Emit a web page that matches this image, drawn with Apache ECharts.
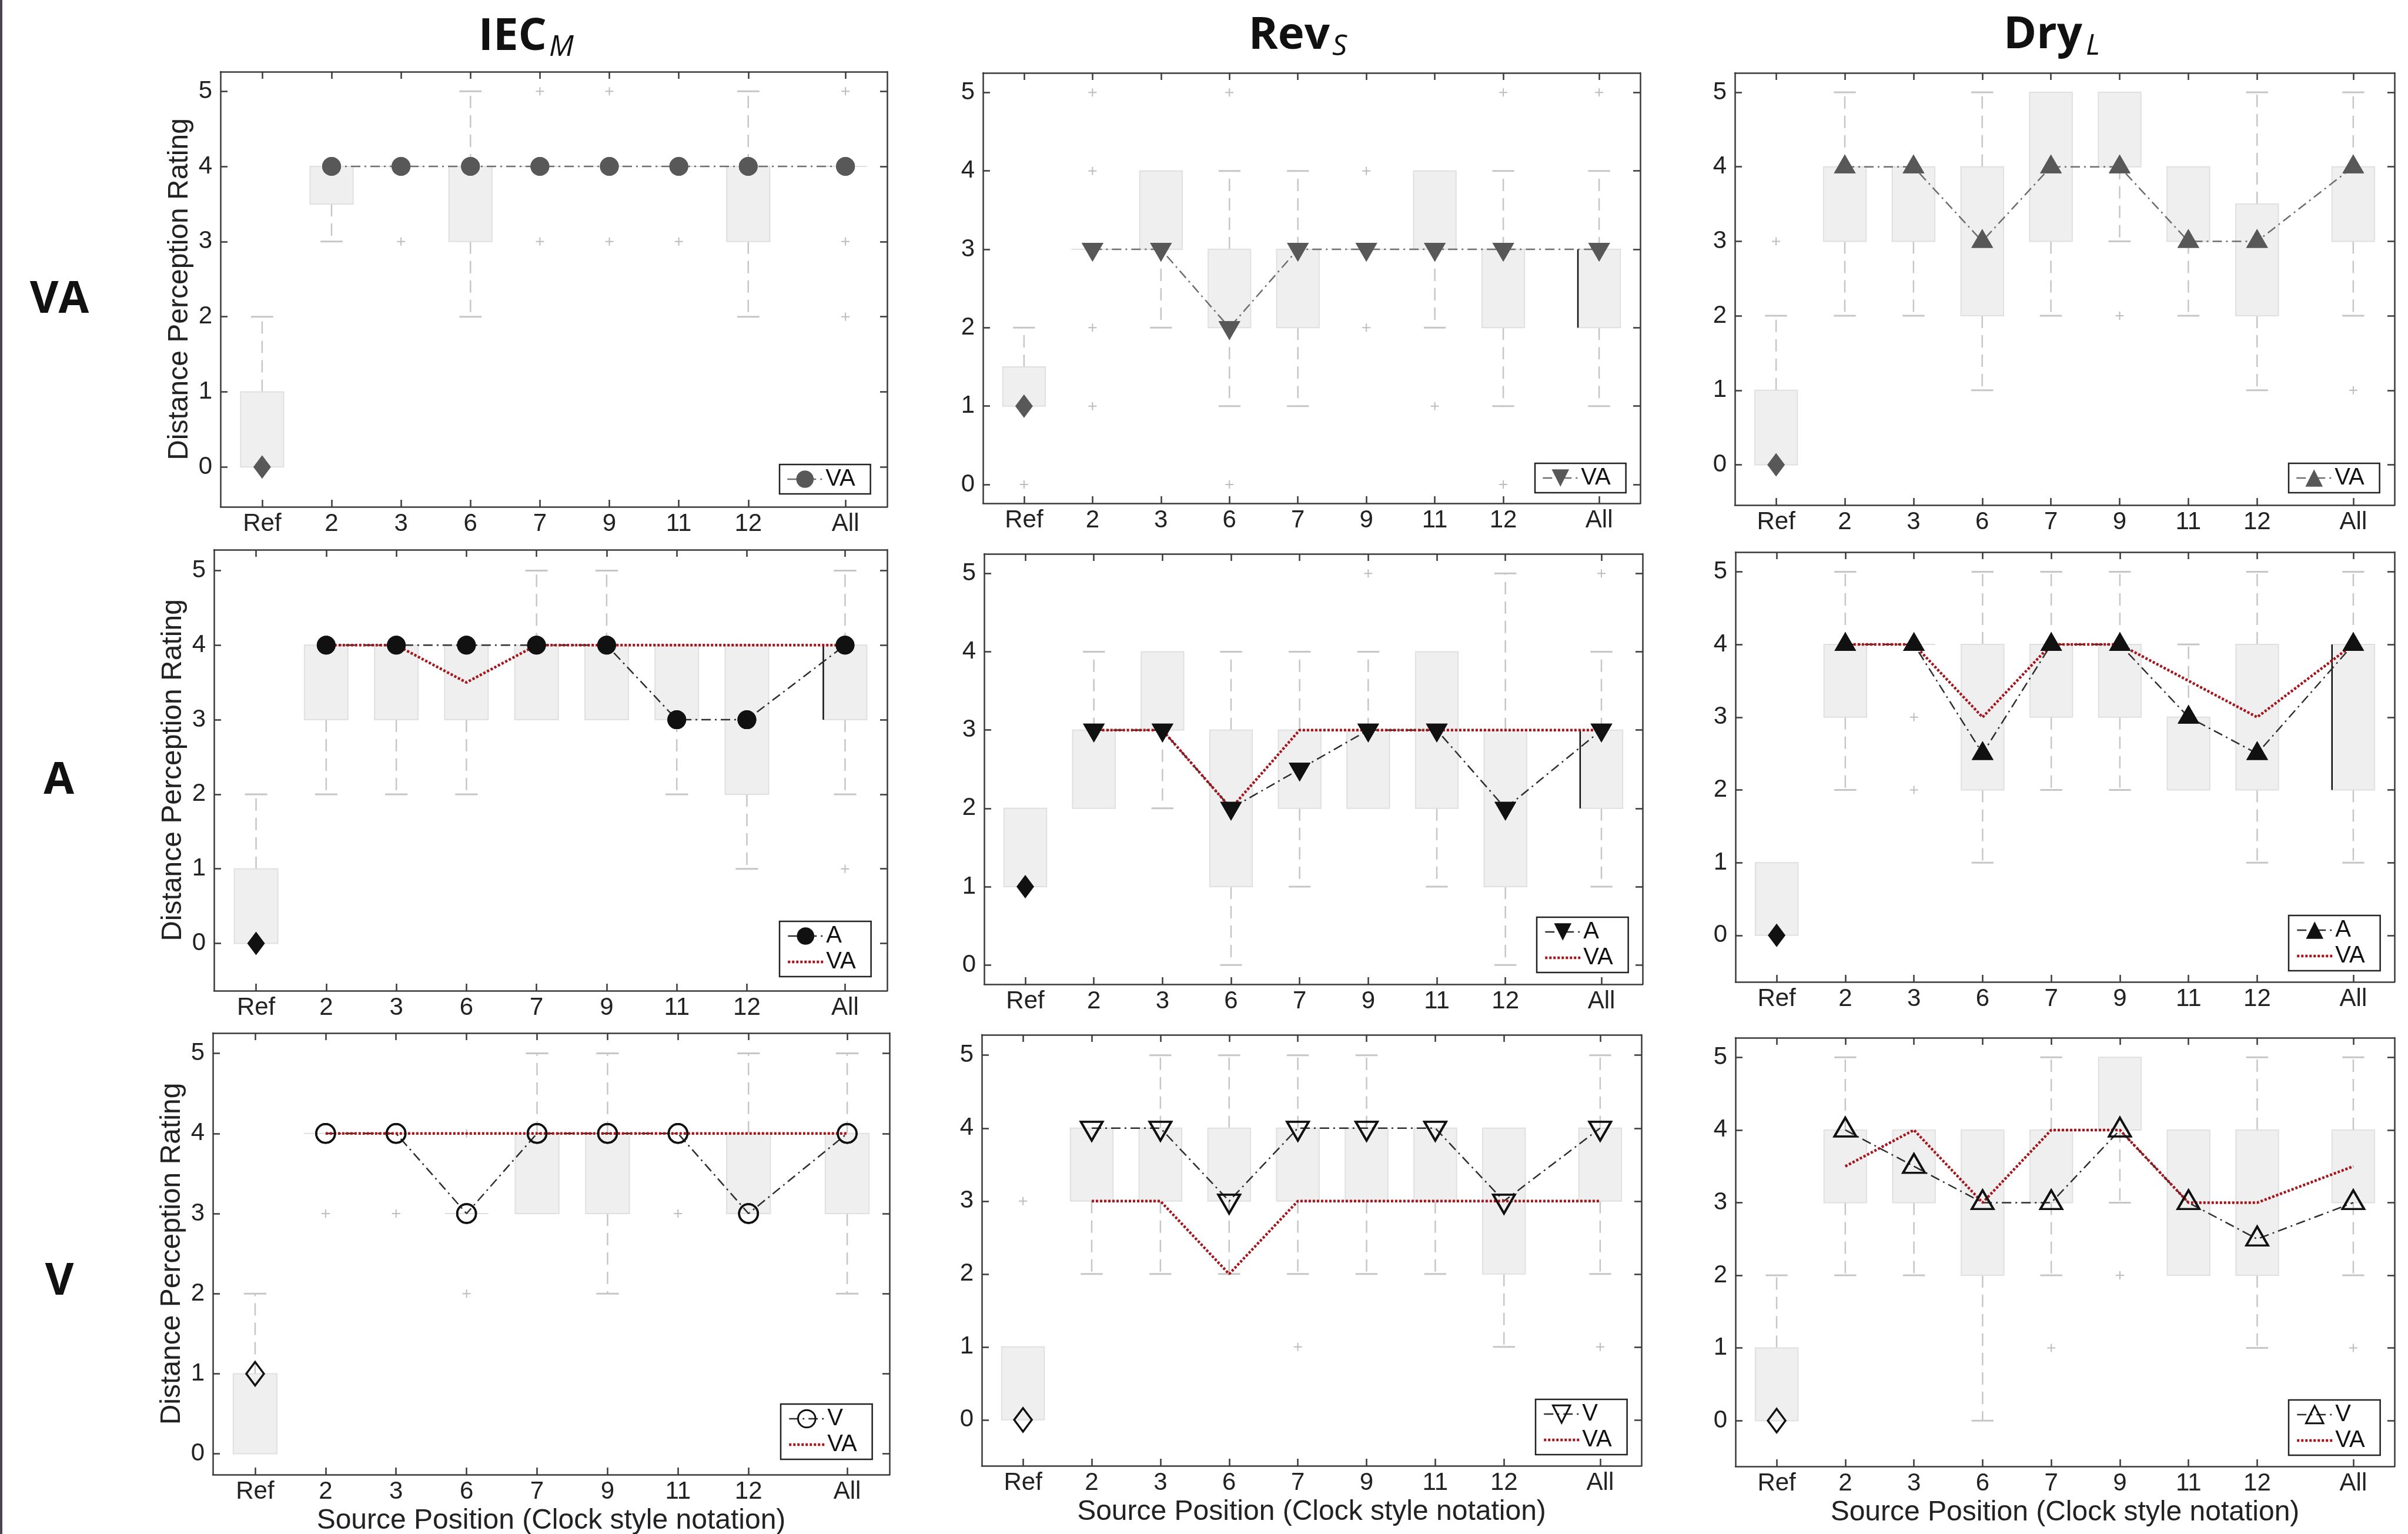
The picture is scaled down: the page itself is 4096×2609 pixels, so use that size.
<!DOCTYPE html>
<html><head><meta charset="utf-8">
<script src="https://cdn.jsdelivr.net/npm/echarts@6/dist/echarts.min.js"></script>
<style>html,body{margin:0;padding:0;background:#fff}#c{width:4096px;height:2609px}</style>
</head><body><div id="c"></div>
<script>
// ---------- data ----------
const positions = ['Ref','2','3','6','7','9','11','12','All'];
const xPositions = [1,2,3,4,5,6,7,8,9.4];
const yTicks = [0,1,2,3,4,5];
const columnTitles = [['IEC','M'],['Rev','S'],['Dry','L']];
const rowTitles = ['VA','A','V'];
const yAxisTitle = 'Distance Perception Rating';
const xAxisTitle = 'Source Position (Clock style notation)';

// boxes: [low whisker, q1, q3, high whisker] per position; outliers: [position index, value]
const iecVaBoxes = [[0,0,1,2],[3,3.5,4,4],[4,4,4,4],[2,3,4,5],[4,4,4,4],[4,4,4,4],[4,4,4,4],[2,3,4,5],[4,4,4,4]];
const iecVaMedians = [0,4,4,4,4,4,4,4,4];
const iecVaOutliers = [[2,3],[4,5],[4,3],[5,5],[5,3],[6,3],[8,5],[8,3],[8,2]];

const revVaBoxes = [[1,1,1.5,2],[3,3,3,3],[2,3,4,4],[1,2,3,4],[1,2,3,4],[3,3,3,3],[2,3,4,4],[1,2,3,4],[1,2,3,4]];
const revVaMedians = [1,3,3,2,3,3,3,3,3];
const revVaOutliers = [[0,0],[1,5],[1,4],[1,2],[1,1],[3,5],[3,0],[5,4],[5,2],[6,1],[7,5],[7,0],[8,5]];

const dryVaBoxes = [[0,0,1,2],[2,3,4,5],[2,3,4,4],[1,2,4,5],[2,3,5,5],[3,4,5,5],[2,3,4,4],[1,2,3.5,5],[2,3,4,5]];
const dryVaMedians = [0,4,4,3,4,4,3,3,4];
const dryVaOutliers = [[0,3],[5,2],[8,1]];

const iecABoxes = [[0,0,1,2],[2,3,4,4],[2,3,4,4],[2,3,4,4],[3,3,4,5],[3,3,4,5],[2,3,4,4],[1,2,4,4],[2,3,4,5]];
const iecAMedians = [0,4,4,4,4,4,3,3,4];
const iecAVaLine = [4,4,3.5,4,4,4,4,4];
const iecAOutliers = [[8,1]];

const revABoxes = [[1,1,2,2],[2,2,3,4],[2,3,4,4],[0,1,3,4],[1,2,3,4],[2,2,3,4],[1,2,4,4],[0,1,3,5],[1,2,3,4]];
const revAMedians = [1,3,3,2,2.5,3,3,2,3];
const revAVaLine = [3,3,2,3,3,3,3,3];
const revAOutliers = [[5,5],[8,5]];

const dryABoxes = [[0,0,1,1],[2,3,4,5],[4,4,4,4],[1,2,4,5],[2,3,4,5],[2,3,4,5],[2,2,3,4],[1,2,4,5],[1,2,4,5]];
const dryAMedians = [0,4,4,2.5,4,4,3,2.5,4];
const dryAVaLine = [4,4,3,4,4,3.5,3,4];
const dryAOutliers = [[2,3],[2,2]];

const iecVBoxes = [[0,0,1,2],[4,4,4,4],[4,4,4,4],[3,3,3,3],[3,3,4,5],[2,3,4,5],[4,4,4,4],[3,3,4,5],[2,3,4,5]];
const iecVMedians = [1,4,4,3,4,4,4,3,4];
const iecVVaLine = [4,4,4,4,4,4,4,4];
const iecVOutliers = [[1,3],[2,3],[3,4],[3,2],[6,3]];

const revVBoxes = [[0,0,1,1],[2,3,4,4],[2,3,4,5],[2,3,4,5],[2,3,4,5],[2,3,4,5],[2,3,4,4],[1,2,4,4],[2,3,4,5]];
const revVMedians = [0,4,4,3,4,4,4,3,4];
const revVVaLine = [3,3,2,3,3,3,3,3];
const revVOutliers = [[0,3],[4,1],[8,1]];

const dryVBoxes = [[0,0,1,2],[2,3,4,5],[2,3,4,4],[0,2,4,4],[2,3,4,5],[3,4,5,5],[2,2,4,4],[1,2,4,5],[2,3,4,5]];
const dryVMedians = [0,4,3.5,3,3,4,3,2.5,3];
const dryVVaLine = [3.5,4,3,4,4,3,3,3.5];
const dryVOutliers = [[4,1],[5,2],[8,1]];

// positions whose box shows a dark left edge
const revVaEdges = [8], iecAEdges = [8], revAEdges = [8], dryAEdges = [8];

const panels = [
  {boxes: iecVaBoxes, medians: iecVaMedians, va: null, outliers: iecVaOutliers, edges: []},
  {boxes: revVaBoxes, medians: revVaMedians, va: null, outliers: revVaOutliers, edges: revVaEdges},
  {boxes: dryVaBoxes, medians: dryVaMedians, va: null, outliers: dryVaOutliers, edges: []},
  {boxes: iecABoxes, medians: iecAMedians, va: iecAVaLine, outliers: iecAOutliers, edges: iecAEdges},
  {boxes: revABoxes, medians: revAMedians, va: revAVaLine, outliers: revAOutliers, edges: revAEdges},
  {boxes: dryABoxes, medians: dryAMedians, va: dryAVaLine, outliers: dryAOutliers, edges: dryAEdges},
  {boxes: iecVBoxes, medians: iecVMedians, va: iecVVaLine, outliers: iecVOutliers, edges: []},
  {boxes: revVBoxes, medians: revVMedians, va: revVVaLine, outliers: revVOutliers, edges: []},
  {boxes: dryVBoxes, medians: dryVMedians, va: dryVVaLine, outliers: dryVOutliers, edges: []}
];

// ---------- layout & style ----------
const layout = [
  {left:375, top:122, width:1134, height:740, yMin:-0.53, yMax:5.26, lgL:1326, lgT:790},
  {left:1672, top:124, width:1118, height:732, yMin:-0.24, yMax:5.25, lgL:2611, lgT:788},
  {left:2951, top:124, width:1122, height:735, yMin:-0.54, yMax:5.26, lgL:3893, lgT:788},
  {left:364, top:935, width:1145, height:750, yMin:-0.635, yMax:5.28, lgL:1326, lgT:1567},
  {left:1674, top:942, width:1120, height:732, yMin:-0.246, yMax:5.25, lgL:2614, lgT:1560},
  {left:2952, top:939, width:1121, height:731, yMin:-0.64, yMax:5.27, lgL:3893, lgT:1557},
  {left:362, top:1757, width:1151, height:751, yMin:-0.26, yMax:5.254, lgL:1328, lgT:2388},
  {left:1670, top:1760, width:1122, height:733, yMin:-0.63, yMax:5.28, lgL:2612, lgT:2380},
  {left:2952, top:1765, width:1121, height:729, yMin:-0.63, yMax:5.27, lgL:3893, lgT:2381}
];
const titleLayout = [
  {mainX:930, mainY:63, subX:934, subY:81},
  {mainX:2262, mainY:61, subX:2266, subY:80},
  {mainX:3542, mainY:60, subX:3548, subY:79}
];
const rowLabelLayout = [{x:101, y:511},{x:100, y:1329},{x:101, y:2181}];

const FONT = '"Liberation Sans", Arial, Helvetica, sans-serif';
const TITLE_FONT = '"Open Sans", "DejaVu Sans", sans-serif';
const AXIS_COLOR = '#3a3a3a';
const BOX_WIDTH = 0.62, CAP_WIDTH = 0.32;
const BOX_FILL = '#efefef', BOX_STROKE = '#e0e0e0', WHISKER = '#c6c6c6';
const RED = '#a3161c';
const PLUS = 'path://M0,6H14V8H0Z M6,0H8V14H6Z';
const colSymbols = [
  {symbol:'circle', size:32, rotate:0, offset:[0,0]},
  {symbol:'triangle', size:[37,32], rotate:180, offset:[0,5]},
  {symbol:'triangle', size:[37,32], rotate:0, offset:[0,-5]}
];
const rowStyles = [
  {item:{color:'#585858', opacity:1}, line:'#6e6e6e'},
  {item:{color:'#111111', opacity:1}, line:'#2e2e2e'},
  {item:{color:'rgba(255,255,255,0)', borderColor:'#111111', borderWidth:3.5, opacity:1}, line:'#2e2e2e'}
];

function renderBox(params, api) {
  const x = api.value(0), lo = api.value(1), q1 = api.value(2), q3 = api.value(3), hi = api.value(4), edge = api.value(5);
  const bw = api.size([BOX_WIDTH, 0])[0];
  const cw = api.size([CAP_WIDTH, 0])[0];
  const pLo = api.coord([x, lo]), pQ1 = api.coord([x, q1]), pQ3 = api.coord([x, q3]), pHi = api.coord([x, hi]);
  const cx = pQ1[0];
  const kids = [];
  const ws = {stroke: WHISKER, lineWidth: 2.5, lineDash: [21, 12]};
  const cs = {stroke: WHISKER, lineWidth: 3};
  if (hi > q3) {
    kids.push({type:'line', shape:{x1:cx, y1:pQ3[1], x2:cx, y2:pHi[1]}, style: ws});
    kids.push({type:'line', shape:{x1:cx-cw/2, y1:pHi[1], x2:cx+cw/2, y2:pHi[1]}, style: cs});
  }
  if (lo < q1) {
    kids.push({type:'line', shape:{x1:cx, y1:pQ1[1], x2:cx, y2:pLo[1]}, style: ws});
    kids.push({type:'line', shape:{x1:cx-cw/2, y1:pLo[1], x2:cx+cw/2, y2:pLo[1]}, style: cs});
  }
  kids.push({type:'rect', shape:{x:cx-bw/2, y:pQ3[1], width:bw, height:pQ1[1]-pQ3[1]},
             style:{fill:BOX_FILL, stroke:BOX_STROKE, lineWidth:2}});
  if (edge) kids.push({type:'line', shape:{x1:cx-bw/2, y1:pQ1[1], x2:cx-bw/2, y2:pQ3[1]}, style:{stroke:'#111', lineWidth:2.5}});
  return {type:'group', children: kids};
}

const xLabel = v => { const i = xPositions.findIndex(p => Math.abs(p - v) < 1e-6); return i >= 0 ? positions[i] : ''; };

const option = {animation:false, backgroundColor:'#ffffff', grid:[], xAxis:[], yAxis:[], series:[], legend:[], graphic:[]};

panels.forEach((p, k) => {
  const L = layout[k], row = Math.floor(k / 3), col = k % 3;
  const sym = colSymbols[col], rs = rowStyles[row];
  option.grid.push({left:L.left, top:L.top, width:L.width, height:L.height, containLabel:false, outerBoundsMode:'none'});
  const line = {show:true, onZero:false, lineStyle:{color:AXIS_COLOR, width:2.5}};
  const tick = vals => ({show:true, inside:true, length:12, customValues:vals, lineStyle:{color:AXIS_COLOR, width:2.5}});
  option.xAxis.push({
    type:'value', gridIndex:k, min:0.4, max:10, position:'bottom',
    axisLine:line, axisTick:tick(xPositions), splitLine:{show:false},
    axisLabel:{show:true, customValues:xPositions, formatter:xLabel, margin:8, fontSize:42, color:'#222', fontFamily:FONT},
    name: row === 2 ? xAxisTitle : '', nameLocation:'middle', nameGap:55, nameMoveOverlap:false,
    nameTextStyle:{fontSize:48, color:'#222', fontFamily:FONT}
  });
  option.xAxis.push({
    type:'value', gridIndex:k, min:0.4, max:10, position:'top',
    axisLine:line, axisTick:tick(xPositions), splitLine:{show:false}, axisLabel:{show:false}
  });
  option.yAxis.push({
    type:'value', gridIndex:k, min:L.yMin, max:L.yMax, position:'left',
    axisLine:line, axisTick:tick(yTicks), splitLine:{show:false},
    axisLabel:{show:true, customValues:yTicks, formatter:v => String(v), margin:14, fontSize:42, color:'#222', fontFamily:FONT},
    name: col === 0 ? yAxisTitle : '', nameLocation:'middle', nameRotate:90, nameGap:45, nameMoveOverlap:false,
    nameTextStyle:{fontSize:48, color:'#222', fontFamily:FONT}
  });
  option.yAxis.push({
    type:'value', gridIndex:k, min:L.yMin, max:L.yMax, position:'right',
    axisLine:line, axisTick:tick(yTicks), splitLine:{show:false}, axisLabel:{show:false}
  });
  const xi = 2 * k, yi = 2 * k;
  const boxData = p.boxes.map((b, i) => [xPositions[i], b[0], b[1], b[2], b[3], p.edges.includes(i) ? 1 : 0]);
  option.series.push({type:'custom', name:'p'+k+'|box', xAxisIndex:xi, yAxisIndex:yi, renderItem:renderBox, data:boxData, z:1, silent:true});
  option.series.push({type:'scatter', name:'p'+k+'|out', xAxisIndex:xi, yAxisIndex:yi, symbol:PLUS, symbolSize:14,
    itemStyle:{color:'#bdbdbd', opacity:1}, data:p.outliers.map(o => [xPositions[o[0]], o[1]]), z:2, silent:true});
  const mainName = 'p'+k+'|'+rowTitles[row];
  const lineData = p.medians.slice(1).map((v, i) => [xPositions[i + 1], v]);
  option.series.push({type:'line', name:mainName, xAxisIndex:xi, yAxisIndex:yi, data:lineData,
    symbol:sym.symbol, symbolSize:sym.size, symbolRotate:sym.rotate, symbolOffset:sym.offset, showSymbol:true,
    lineStyle:{color:rs.line, width:2.5, type:[16,7,3,7]}, itemStyle:rs.item, z:3, silent:true});
  const legendData = [{name:mainName, itemStyle: row === 2 ? {color:'rgba(255,255,255,0)', borderColor:'#111', borderWidth:3} : undefined}];
  if (p.va) {
    const vaName = 'p'+k+'|VA';
    option.series.push({type:'line', name:vaName, xAxisIndex:xi, yAxisIndex:yi,
      data:p.va.map((v, i) => [xPositions[i + 1], v]), symbol:'none',
      lineStyle:{color:RED, width:4.5, type:[4,3]}, itemStyle:{color:'rgba(0,0,0,0)'}, z:4, silent:true});
    legendData.push({name:vaName, itemStyle:{color:'rgba(0,0,0,0)', borderWidth:0}, lineStyle:{width:4.5, color:RED}});
  }
  option.series.push({type:'scatter', name:'p'+k+'|marks', xAxisIndex:xi, yAxisIndex:yi, data:lineData,
    symbol:sym.symbol, symbolSize:sym.size, symbolRotate:sym.rotate, symbolOffset:sym.offset, itemStyle:rs.item, z:6, silent:true});
  option.series.push({type:'scatter', name:'p'+k+'|ref', xAxisIndex:xi, yAxisIndex:yi,
    data:[[xPositions[0], p.medians[0]]], symbol:'diamond', symbolSize:[30,40], itemStyle:rs.item, z:6, silent:true});
  option.legend.push({
    left:L.lgL, top:L.lgT, orient:'vertical', align:'left', data:legendData,
    formatter:n => n.split('|')[1], selectedMode:false,
    backgroundColor:'#ffffff', borderColor:'#222', borderWidth:2.5, borderRadius:0,
    padding:[5, 26, 5, 12], itemWidth:60, itemHeight:37, itemGap:4,
    lineStyle:{width:2.5},
    textStyle:{fontSize:40, color:'#111', fontFamily:FONT}
  });
});

// frame bar on far left
option.graphic.push({type:'rect', left:0, top:0, shape:{width:4, height:2609}, style:{fill:'#4b4552'}, silent:true});
columnTitles.forEach((t, c) => {
  const T = titleLayout[c];
  option.graphic.push({type:'text', x:T.mainX, y:T.mainY, silent:true,
    style:{text:t[0], fontSize:76, fontWeight:'bold', fontFamily:TITLE_FONT, fill:'#111',
           align:'right', textAlign:'right', verticalAlign:'middle', textVerticalAlign:'middle'}});
  option.graphic.push({type:'text', x:T.subX, y:T.subY, silent:true,
    style:{text:t[1], fontSize:50, fontStyle:'italic', fontFamily:TITLE_FONT, fill:'#111',
           align:'left', textAlign:'left', verticalAlign:'middle', textVerticalAlign:'middle'}});
});
rowTitles.forEach((t, r) => {
  const R = rowLabelLayout[r];
  option.graphic.push({type:'text', x:R.x, y:R.y, silent:true,
    style:{text:t, fontSize:75, fontWeight:'bold', fontFamily:TITLE_FONT, fill:'#111',
           align:'center', textAlign:'center', verticalAlign:'middle', textVerticalAlign:'middle'}});
});

const chart = echarts.init(document.getElementById('c'), null, {renderer:'canvas'});
chart.setOption(option);
</script>
</body></html>
